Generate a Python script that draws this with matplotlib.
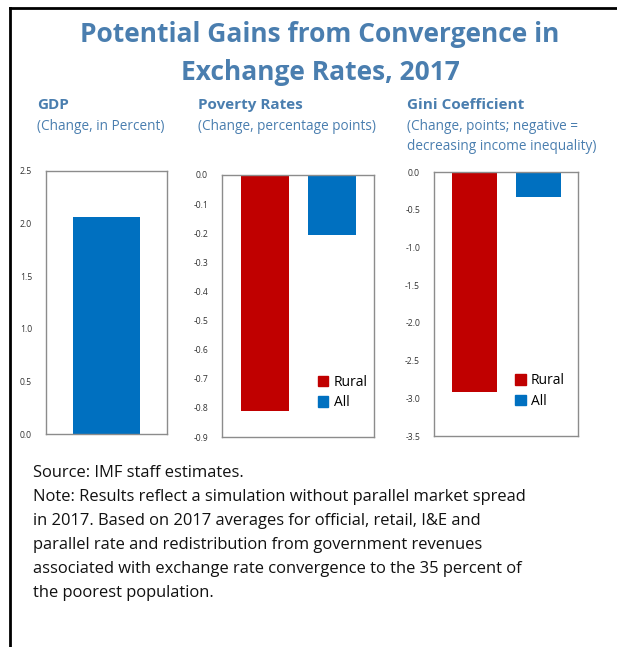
import numpy as np
import matplotlib
matplotlib.use("Agg")
import matplotlib.pyplot as plt
from matplotlib.patches import Patch
from matplotlib.lines import Line2D

plt.rcParams['font.family'] = ['Open Sans', 'DejaVu Sans']

# data
gdp_value = [2.06]
groups = ['Rural', 'All']
poverty_values = [-0.81, -0.205]
gini_values = [-2.92, -0.33]
group_colors = ['#C00000', '#0070C0']

gdp_ticks = np.arange(0, 2.51, 0.5)
poverty_ticks = np.arange(0, -0.91, -0.1)
gini_ticks = np.arange(0, -3.51, -0.5)

title_col = '#4A7EAF'
W, H = 617, 647
fig = plt.figure(figsize=(W / 100, H / 100), dpi=100)


def px_axes(x0, y0, x1, y1):
    # pixel box (left, top, right, bottom) -> figure fraction
    return fig.add_axes([x0 / W, 1 - y1 / H, (x1 - x0) / W, (y1 - y0) / H])


def style(ax, ticks):
    for s in ax.spines.values():
        s.set_color('#8c8c8c')
        s.set_linewidth(1.0)
    ax.set_xticks([])
    ax.set_yticks(ticks)
    ax.set_yticklabels(['%.1f' % abs(t) if abs(t) < 1e-9 else '%.1f' % t for t in ticks])
    ax.tick_params(axis='y', length=0, labelsize=6.2, labelcolor='#333333', pad=10)


# GDP panel
ax1 = px_axes(46, 171, 167, 434)
ax1.bar([0], gdp_value, width=0.55, color=group_colors[1])
ax1.set_xlim(-0.5, 0.5)
ax1.set_ylim(0, 2.5)
style(ax1, gdp_ticks)

# Poverty panel
ax2 = px_axes(222, 175, 374, 437)
ax2.bar(range(2), poverty_values, width=0.71, color=group_colors)
ax2.set_xlim(-0.64, 1.63)
ax2.set_ylim(-0.9, 0)
style(ax2, poverty_ticks)

# Gini panel
ax3 = px_axes(434, 172, 578, 436)
ax3.bar(range(2), gini_values, width=0.71, color=group_colors)
ax3.set_xlim(-0.63, 1.62)
ax3.set_ylim(-3.5, 0)
style(ax3, gini_ticks)

handles = [Patch(color=c) for c in group_colors]
for ax, lx in ((ax2, 0.585), (ax3, 0.515)):
    ax.legend(handles, groups, loc='lower left', bbox_to_anchor=(lx, 0.075),
              frameon=False, fontsize=10, handlelength=0.75, handleheight=0.75,
              handletextpad=0.4, labelspacing=0.42, borderpad=0)

# titles
fig.text(320 / W, 1 - 34 / H, 'Potential Gains from Convergence in', ha='center', va='center',
         fontsize=19, fontweight='bold', color=title_col)
fig.text(320 / W, 1 - 72 / H, 'Exchange Rates, 2017', ha='center', va='center',
         fontsize=19, fontweight='bold', color=title_col)

heads = [(37, 'GDP', ['(Change, in Percent)']),
         (198, 'Poverty Rates', ['(Change, percentage points)']),
         (407, 'Gini Coefficient', ['(Change, points; negative =', 'decreasing income inequality)'])]
for x, h, subs in heads:
    fig.text(x / W, 1 - 105 / H, h, ha='left', va='center', fontsize=11,
             fontweight='bold', color=title_col)
    for k, s in enumerate(subs):
        fig.text(x / W, 1 - (127 + 20 * k) / H, s, ha='left', va='center',
                 fontsize=9.8, color=title_col)

notes = ['Source: IMF staff estimates.',
         'Note: Results reflect a simulation without parallel market spread',
         'in 2017. Based on 2017 averages for official, retail, I&E and',
         'parallel rate and redistribution from government revenues',
         'associated with exchange rate convergence to the 35 percent of',
         'the poorest population.']
for k, s in enumerate(notes):
    fig.text(33 / W, 1 - (473 + 24 * k) / H, s, ha='left', va='center',
             fontsize=11.9, color='#111111')

# outer frame (left and top edges)
fig.add_artist(Line2D([10 / W, 10 / W], [0, 1 - 8 / H], color='black', lw=2,
                      transform=fig.transFigure))
fig.add_artist(Line2D([10 / W, 1], [1 - 8 / H, 1 - 8 / H], color='black', lw=2,
                      transform=fig.transFigure))

fig.savefig('out.png', dpi=100)
